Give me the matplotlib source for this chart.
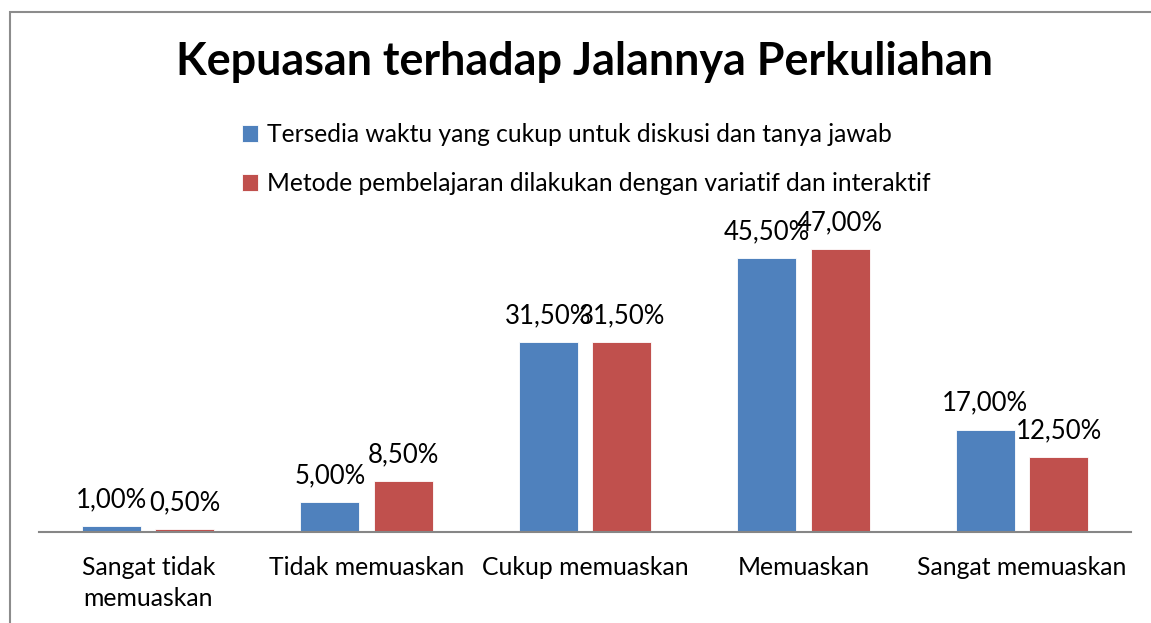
import matplotlib

matplotlib.use("Agg")

import matplotlib.pyplot as plt
from matplotlib.patches import Rectangle
import numpy as np

plt.rcParams["font.family"] = ["Lato", "DejaVu Sans"]

# data
categories = ["Sangat tidak\nmemuaskan", "Tidak memuaskan", "Cukup memuaskan",
              "Memuaskan", "Sangat memuaskan"]
waktu_diskusi = [1.0, 5.0, 31.5, 45.5, 17.0]
metode_variatif = [0.5, 8.5, 31.5, 47.0, 12.5]
series_names = ["Tersedia waktu yang cukup untuk diskusi dan tanya jawab",
                "Metode pembelajaran dilakukan dengan variatif dan interaktif"]

BLUE = "#4F81BD"
RED = "#C0504D"
AXIS_COLOR = "#868686"

W, H = 1151, 623
fig = plt.figure(figsize=(W / 100, H / 100), dpi=100, facecolor="white")

# chart frame (cropped at right/bottom in the original)
fig.patches.append(Rectangle((10 / W, -0.05), 1.2, 1 - 12 / H + 0.05,
                             transform=fig.transFigure, fill=False,
                             edgecolor="#8C8C8C", linewidth=1.5))

ax = fig.add_axes([39 / W, (H - 532) / H, (1131 - 39) / W, 301 / H])
x = np.arange(len(categories))
bw = 0.27
off = 0.168
b1 = ax.bar(x - off, waktu_diskusi, bw, color=BLUE, edgecolor="white", linewidth=0.6,
            label=series_names[0])
b2 = ax.bar(x + off, metode_variatif, bw, color=RED, edgecolor="white", linewidth=0.6,
            label=series_names[1])

for bars, vals in ((b1, waktu_diskusi), (b2, metode_variatif)):
    for bar, v in zip(bars, vals):
        ax.annotate(f"{v:.2f}%".replace(".", ","),
                    (bar.get_x() + bar.get_width() / 2, bar.get_height()),
                    xytext=(0, 10), textcoords="offset points",
                    ha="center", va="bottom", fontsize=18.5, color="black")

ax.set_xlim(-0.5, len(categories) - 0.5)
ax.set_ylim(0, 50)
ax.set_yticks([])
ax.set_xticks(x)
ax.set_xticklabels(categories, fontsize=17.8, linespacing=1.45)
ax.tick_params(axis="x", length=0, pad=17)
for s in ("top", "right", "left"):
    ax.spines[s].set_visible(False)
ax.spines["bottom"].set_color(AXIS_COLOR)
ax.spines["bottom"].set_linewidth(1.5)

fig.text(585 / W, 1 - 62 / H, "Kepuasan terhadap Jalannya Perkuliahan",
         ha="center", va="center", fontsize=32.3, fontweight="bold")

fig.legend(handles=[b1, b2], loc="upper left",
           bbox_to_anchor=(230 / W, 1 - 111 / H), frameon=False,
           fontsize=17.7, handlelength=0.65, handleheight=0.65,
           handletextpad=0.35, labelspacing=1.05, borderpad=0)

fig.savefig("out.png", dpi=100, facecolor="white")
